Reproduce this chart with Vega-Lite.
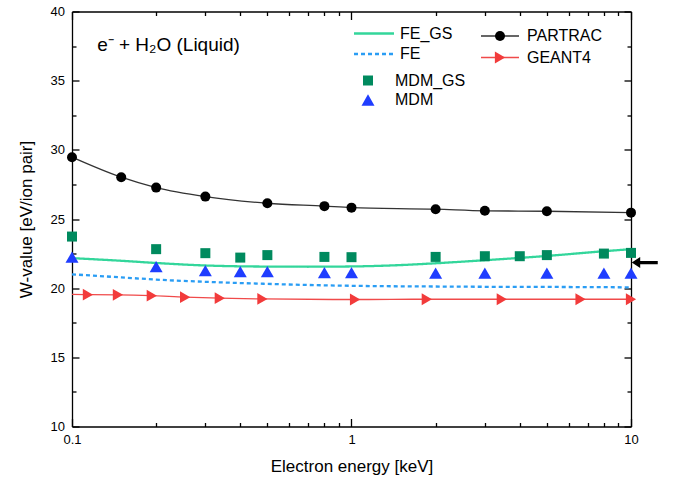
{
  "$schema": "https://vega.github.io/schema/vega-lite/v6.json",
  "width": 559,
  "height": 415,
  "autosize": {"type": "none"},
  "padding": {"left": 72, "top": 11.5, "right": 44, "bottom": 55.5},
  "config": {
    "view": {"stroke": null},
    "font": "Liberation Sans",
    "axis": {
      "domainColor": "black", "domainWidth": 1.3,
      "ticks": true, "tickColor": "black", "tickWidth": 1.3,
      "labelFont": "Liberation Sans", "labelFontSize": 13, "labelColor": "black",
      "titleFont": "Liberation Sans", "titleFontSize": 17, "titleFontWeight": "normal", "titleColor": "black",
      "grid": false
    },
    "legend": {
      "padding": 0, "title": null,
      "labelFont": "Liberation Sans", "labelFontSize": 16, "labelColor": "black"
    }
  },
  "datasets": {
    "fe": [
      {"series": "FE_GS", "E": 0.1, "W": 22.17},
      {"series": "FE_GS", "E": 0.15, "W": 21.98},
      {"series": "FE_GS", "E": 0.2, "W": 21.82},
      {"series": "FE_GS", "E": 0.3, "W": 21.64},
      {"series": "FE_GS", "E": 0.5, "W": 21.56},
      {"series": "FE_GS", "E": 0.7, "W": 21.55},
      {"series": "FE_GS", "E": 1, "W": 21.57},
      {"series": "FE_GS", "E": 1.5, "W": 21.67},
      {"series": "FE_GS", "E": 2, "W": 21.8},
      {"series": "FE_GS", "E": 3, "W": 22.02},
      {"series": "FE_GS", "E": 5, "W": 22.33},
      {"series": "FE_GS", "E": 8, "W": 22.67},
      {"series": "FE_GS", "E": 10, "W": 22.82},
      {"series": "FE", "E": 0.1, "W": 21.0},
      {"series": "FE", "E": 0.15, "W": 20.78},
      {"series": "FE", "E": 0.2, "W": 20.62},
      {"series": "FE", "E": 0.3, "W": 20.46},
      {"series": "FE", "E": 0.5, "W": 20.31},
      {"series": "FE", "E": 0.7, "W": 20.23},
      {"series": "FE", "E": 1, "W": 20.17},
      {"series": "FE", "E": 2, "W": 20.12},
      {"series": "FE", "E": 3, "W": 20.1},
      {"series": "FE", "E": 5, "W": 20.09},
      {"series": "FE", "E": 10, "W": 20.06}
    ],
    "mdm": [
      {"series": "MDM_GS", "E": 0.1, "W": 23.73},
      {"series": "MDM_GS", "E": 0.2, "W": 22.82},
      {"series": "MDM_GS", "E": 0.3, "W": 22.53},
      {"series": "MDM_GS", "E": 0.4, "W": 22.21},
      {"series": "MDM_GS", "E": 0.5, "W": 22.39},
      {"series": "MDM_GS", "E": 0.8, "W": 22.26},
      {"series": "MDM_GS", "E": 1, "W": 22.24},
      {"series": "MDM_GS", "E": 2, "W": 22.26},
      {"series": "MDM_GS", "E": 3, "W": 22.31},
      {"series": "MDM_GS", "E": 4, "W": 22.31},
      {"series": "MDM_GS", "E": 5, "W": 22.39},
      {"series": "MDM_GS", "E": 8, "W": 22.5},
      {"series": "MDM_GS", "E": 10, "W": 22.55},
      {"series": "MDM", "E": 0.1, "W": 22.24},
      {"series": "MDM", "E": 0.2, "W": 21.56},
      {"series": "MDM", "E": 0.3, "W": 21.27},
      {"series": "MDM", "E": 0.4, "W": 21.2},
      {"series": "MDM", "E": 0.5, "W": 21.2},
      {"series": "MDM", "E": 0.8, "W": 21.13},
      {"series": "MDM", "E": 1, "W": 21.13},
      {"series": "MDM", "E": 2, "W": 21.08},
      {"series": "MDM", "E": 3, "W": 21.08},
      {"series": "MDM", "E": 5, "W": 21.08},
      {"series": "MDM", "E": 8, "W": 21.08},
      {"series": "MDM", "E": 10, "W": 21.08}
    ],
    "codes": [
      {"series": "PARTRAC", "E": 0.1, "W": 29.47},
      {"series": "PARTRAC", "E": 0.15, "W": 28.02},
      {"series": "PARTRAC", "E": 0.2, "W": 27.27},
      {"series": "PARTRAC", "E": 0.3, "W": 26.62},
      {"series": "PARTRAC", "E": 0.5, "W": 26.14},
      {"series": "PARTRAC", "E": 0.8, "W": 25.93},
      {"series": "PARTRAC", "E": 1, "W": 25.82},
      {"series": "PARTRAC", "E": 2, "W": 25.71},
      {"series": "PARTRAC", "E": 3, "W": 25.59},
      {"series": "PARTRAC", "E": 5, "W": 25.56},
      {"series": "PARTRAC", "E": 10, "W": 25.46},
      {"series": "GEANT4", "E": 0.1, "W": 19.55},
      {"series": "GEANT4", "E": 0.114, "W": 19.53},
      {"series": "GEANT4", "E": 0.146, "W": 19.52},
      {"series": "GEANT4", "E": 0.193, "W": 19.46},
      {"series": "GEANT4", "E": 0.254, "W": 19.35},
      {"series": "GEANT4", "E": 0.338, "W": 19.28},
      {"series": "GEANT4", "E": 0.48, "W": 19.22},
      {"series": "GEANT4", "E": 1.03, "W": 19.18},
      {"series": "GEANT4", "E": 1.86, "W": 19.2},
      {"series": "GEANT4", "E": 3.45, "W": 19.2},
      {"series": "GEANT4", "E": 6.6, "W": 19.2},
      {"series": "GEANT4", "E": 10, "W": 19.2}
    ],
    "notes": [
      {"label": "e⁻ + H₂O (Liquid)", "E": 0.123, "W": 37.6}
    ],
    "marker": [
      {"E": 11.2, "W": 21.85}
    ]
  },
  "layer": [
    {
      "data": {"name": "fe"},
      "mark": {"type": "line", "interpolate": "monotone"},
      "encoding": {
        "x": {
          "field": "E", "type": "quantitative",
          "scale": {"type": "log", "domain": [0.1, 10], "nice": false},
          "axis": {
            "orient": "bottom",
            "title": "Electron energy [keV]",
            "values": [0.1, 1, 10],
            "format": "~g",
            "tickSize": -8,
            "labelPadding": 15,
            "labelFlush": false,
            "titlePadding": 12
          }
        },
        "y": {
          "field": "W", "type": "quantitative",
          "scale": {"domain": [10, 40], "nice": false, "zero": false},
          "axis": {
            "orient": "left",
            "title": "W-value [eV/ion pair]",
            "values": [10, 15, 20, 25, 30, 35, 40],
            "tickSize": -7,
            "labelPadding": 14.5,
            "labelFlush": false,
            "titlePadding": 15
          }
        },
        "color": {
          "field": "series", "type": "nominal",
          "scale": {"domain": ["FE_GS", "FE"], "range": ["#33d69b", "#2a9df4"]},
          "legend": {
            "orient": "none", "legendX": 294, "legendY": 14,
            "symbolType": "M-4,0L4,0", "symbolSize": 100, "symbolStrokeWidth": 2.5,
            "labelOffset": 18, "rowPadding": 4.5
          }
        },
        "strokeDash": {
          "field": "series", "type": "nominal",
          "scale": {"domain": ["FE_GS", "FE"], "range": [[1, 0], [4, 3]]}
        },
        "strokeWidth": {"value": 2.3}
      }
    },
    {
      "data": {"name": "mdm"},
      "mark": {"type": "point", "filled": true, "opacity": 1},
      "encoding": {
        "x": {
          "field": "E", "type": "quantitative",
          "scale": {"type": "log", "domain": [0.1, 10], "nice": false},
          "axis": {
            "orient": "bottom", "title": null, "labels": false, "domain": false,
            "values": [0.2, 0.3, 0.4, 0.5, 0.6, 0.7, 0.8, 0.9, 2, 3, 4, 5, 6, 7, 8, 9],
            "tickSize": -4
          }
        },
        "y": {
          "field": "W", "type": "quantitative",
          "scale": {"domain": [10, 40], "nice": false, "zero": false},
          "axis": {
            "orient": "left", "title": null, "labels": false, "domain": false,
            "values": [12.5, 17.5, 22.5, 27.5, 32.5, 37.5],
            "tickSize": -4
          }
        },
        "color": {
          "field": "series", "type": "nominal",
          "scale": {"domain": ["MDM_GS", "MDM"], "range": ["#008a5e", "#1f3dff"]},
          "legend": {
            "orient": "none", "legendX": 288, "legendY": 61,
            "labelOffset": 19, "rowPadding": 3.5
          }
        },
        "shape": {
          "field": "series", "type": "nominal",
          "scale": {"domain": ["MDM_GS", "MDM"], "range": ["square", "triangle-up"]}
        },
        "size": {
          "field": "series", "type": "nominal",
          "scale": {"domain": ["MDM_GS", "MDM"], "range": [100, 169]}
        }
      }
    },
    {
      "data": {"name": "codes"},
      "mark": {"type": "line", "interpolate": "monotone", "strokeWidth": 1.3},
      "encoding": {
        "x": {
          "field": "E", "type": "quantitative",
          "scale": {"type": "log", "domain": [0.1, 10], "nice": false},
          "axis": {
            "orient": "top", "title": null, "labels": false,
            "values": [0.1, 1, 10],
            "tickSize": -8
          }
        },
        "y": {
          "field": "W", "type": "quantitative",
          "scale": {"domain": [10, 40], "nice": false, "zero": false},
          "axis": {
            "orient": "right", "title": null, "labels": false,
            "values": [10, 15, 20, 25, 30, 35, 40],
            "tickSize": -7
          }
        },
        "color": {
          "field": "series", "type": "nominal",
          "scale": {"domain": ["PARTRAC", "GEANT4"], "range": ["#333333", "#f04a4a"]},
          "legend": {
            "orient": "none", "legendX": 420, "legendY": 16.5,
            "symbolType": "M-3.8,0L3.8,0", "symbolSize": 100, "symbolStrokeWidth": 1.5,
            "labelOffset": 19, "rowPadding": 5.5
          }
        }
      }
    },
    {
      "data": {"name": "codes"},
      "transform": [{"filter": "datum.series != 'GEANT4' || datum.E > 0.1"}],
      "mark": {"type": "point", "filled": true, "opacity": 1},
      "encoding": {
        "x": {
          "field": "E", "type": "quantitative",
          "scale": {"type": "log", "domain": [0.1, 10], "nice": false},
          "axis": {
            "orient": "top", "title": null, "labels": false, "domain": false,
            "values": [0.2, 0.3, 0.4, 0.5, 0.6, 0.7, 0.8, 0.9, 2, 3, 4, 5, 6, 7, 8, 9],
            "tickSize": -4
          }
        },
        "y": {
          "field": "W", "type": "quantitative",
          "scale": {"domain": [10, 40], "nice": false, "zero": false},
          "axis": {
            "orient": "right", "title": null, "labels": false, "domain": false,
            "values": [12.5, 17.5, 22.5, 27.5, 32.5, 37.5],
            "tickSize": -4
          }
        },
        "color": {
          "field": "series", "type": "nominal",
          "scale": {"domain": ["PARTRAC", "GEANT4"], "range": ["#000000", "#f23b3b"]},
          "legend": {
            "orient": "none", "legendX": 420, "legendY": 16.5,
            "labelOffset": 19, "rowPadding": 5.5, "labelOpacity": 0
          }
        },
        "shape": {
          "field": "series", "type": "nominal",
          "scale": {"domain": ["PARTRAC", "GEANT4"], "range": ["circle", "triangle-right"]}
        },
        "size": {
          "field": "series", "type": "nominal",
          "scale": {"domain": ["PARTRAC", "GEANT4"], "range": [100, 140]}
        }
      }
    },
    {
      "data": {"name": "notes"},
      "mark": {"type": "text", "align": "left", "baseline": "middle", "fontSize": 19, "font": "Liberation Sans", "color": "black"},
      "encoding": {
        "x": {"field": "E", "type": "quantitative", "scale": {"type": "log", "domain": [0.1, 10], "nice": false}, "axis": null},
        "y": {"field": "W", "type": "quantitative", "scale": {"domain": [10, 40], "nice": false, "zero": false}, "axis": null},
        "text": {"field": "label"}
      }
    },
    {
      "data": {"name": "marker"},
      "mark": {
        "type": "point", "filled": true, "opacity": 1, "color": "black", "size": 676,
        "shape": "M-1,0L-0.35,-0.42L-0.35,-0.12L1,-0.12L1,0.12L-0.35,0.12L-0.35,0.42Z"
      },
      "encoding": {
        "x": {"field": "E", "type": "quantitative", "scale": {"type": "log", "domain": [0.1, 10], "nice": false}, "axis": null},
        "y": {"field": "W", "type": "quantitative", "scale": {"domain": [10, 40], "nice": false, "zero": false}, "axis": null}
      }
    }
  ],
  "resolve": {
    "scale": {"color": "independent", "shape": "independent", "size": "independent", "strokeDash": "independent"},
    "legend": {"color": "independent", "shape": "independent", "size": "independent", "strokeDash": "independent"},
    "axis": {"x": "independent", "y": "independent"}
  }
}
